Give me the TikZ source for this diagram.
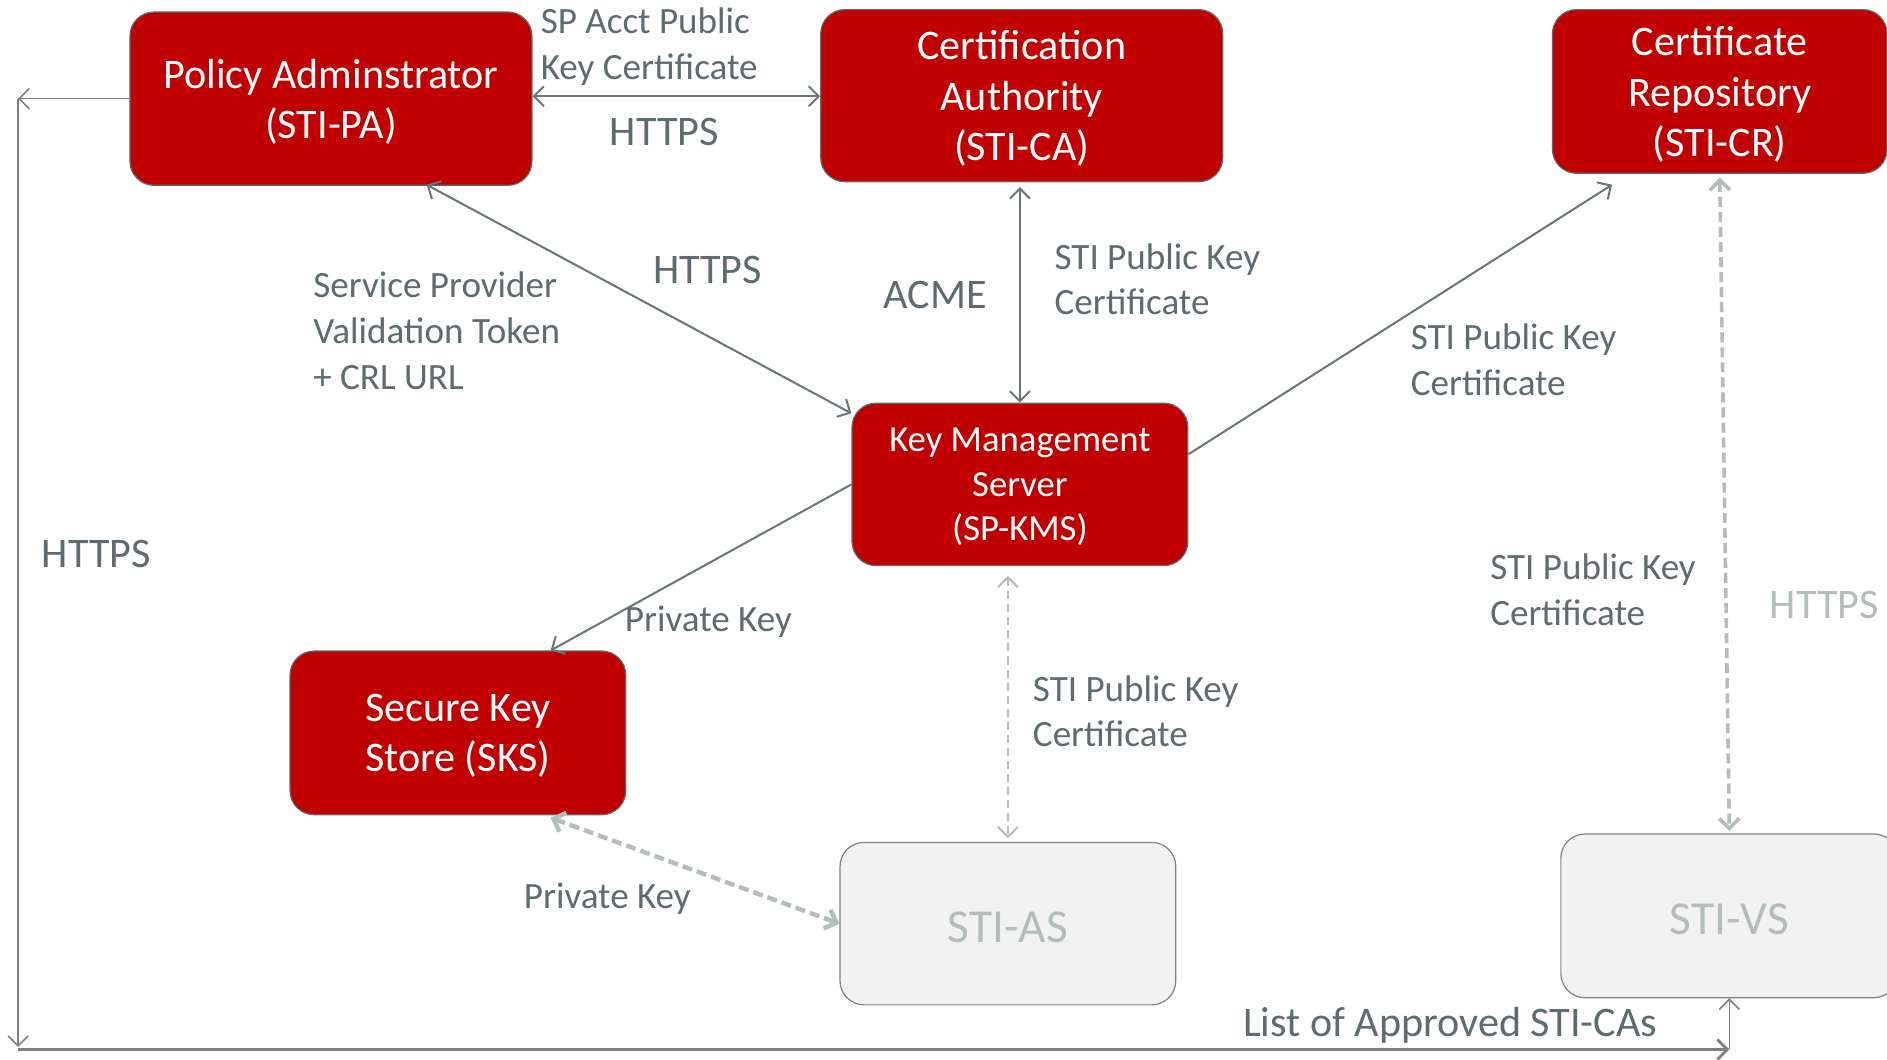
\documentclass[tikz,border=0pt]{standalone}
\usepackage{fontspec}
\setmainfont{Carlito}
\usetikzlibrary{arrows.meta,calc}
\definecolor{boxred}{HTML}{C00000}
\definecolor{boxedge}{HTML}{5E6A6C}
\definecolor{boxgrey}{HTML}{F2F2F2}
\definecolor{greyedge}{HTML}{7A8486}
\definecolor{labelgrey}{HTML}{5F6B6E}
\definecolor{linegrey}{HTML}{6A7678}
\definecolor{lightgrey}{HTML}{B4BCBC}
\definecolor{pathgrey}{HTML}{808080}
\begin{document}
\begin{tikzpicture}[x=0.6pt,y=-0.6pt,
  >={Straight Barb[length=5pt,width=10pt]},
  redbox/.style={draw=boxedge, line width=0.6pt, fill=boxred, rounded corners=12pt,
    text=white, align=center, inner sep=0pt, text depth=0pt,
    font=\fontsize{21}{25.2}\selectfont},
  greybox/.style={draw=greyedge, line width=0.6pt, fill=boxgrey, rounded corners=12pt,
    text=lightgrey, align=center, inner sep=0pt, text height=18.5pt, text depth=0pt,
    font=\fontsize{23.6}{28}\selectfont},
  lbl/.style={text=labelgrey, align=left, inner sep=0pt, anchor=west,
    font=\fontsize{18.5}{22.8}\selectfont},
  biglbl/.style={text=labelgrey, inner sep=0pt, font=\fontsize{21}{25}\selectfont},
  conn/.style={draw=linegrey, line width=1pt},
  frame/.style={draw=pathgrey, line width=0.8pt},
  softdash/.style={draw=lightgrey, line width=1pt, dash pattern=on 4pt off 2.5pt},
  heavydash/.style={draw=lightgrey, line width=1.8pt, dash pattern=on 5pt off 2.5pt}]

\fill[white] (0,0) rectangle (1568,880);
\useasboundingbox (0,0) rectangle (1568,880);

% entities
\node[redbox, minimum width=200.4pt, minimum height=86.4pt] (pa) at (275,82)
  {Policy Adminstrator\\(STI-PA)};
\node[redbox, minimum width=200.4pt, minimum height=85.8pt] (ca) at (849,79.5)
  {Certification\\Authority\\(STI-CA)};
\node[redbox, minimum width=166.8pt, minimum height=81.6pt] (cr) at (1429,76)
  {Certificate\\Repository\\(STI-CR)};
\node[redbox, minimum width=167.4pt, minimum height=81pt,
  font=\fontsize{18.3}{22.2}\selectfont] (kms) at (847.5,402.5)
  {Key Management\\Server\\(SP-KMS)};
\node[redbox, minimum width=167.4pt, minimum height=81.6pt] (sks) at (380.5,609)
  {Secure Key\\Store (SKS)};
\node[greybox, minimum width=167.4pt, minimum height=81pt] (as) at (837.5,767.5)
  {STI-AS};
\node[greybox, minimum width=168pt, minimum height=81.6pt] (vs) at (1437,761)
  {STI-VS};

% corner points of the distribution path around the left and bottom
\coordinate (c1) at (15,82);
\coordinate (c2) at (15,870);
\coordinate (c3) at (15,872);
\coordinate (c4) at (1437,872);

% solid connectors
\draw[conn, <->] (pa.east |- 0,80) -- (ca.west |- 0,80);
\draw[conn, <->] ($(pa.south west)+(247,-1)$) -- ($(kms.north west)+(0,9)$);
\draw[conn, <->] ($(kms.north |- ca.south)+(0,4)$) -- (kms.north);
\draw[conn, ->] ($(kms.north east)+(0,43)$) -- ($(cr.south west)+(50,9)$);
\draw[conn, ->] (kms.west) -- ($(sks.north west)+(217,0)$);

% policy administrator distribution path
\draw[frame, ->] (pa.west |- c1) -- (c1);
\draw[frame, ->] (c1) -- (c2);
\draw[frame, line width=1.4pt, ->] (c3) -- (c4);
\draw[frame, ->] (c4) -- (vs.south);

% dashed connectors
\draw[softdash, <->] ($(kms.south)+(-10,8)$) -- ($(as.north)+(0,-3)$);
\draw[heavydash, <->] ($(cr.south)+(0,3)$) -- ($(vs.north)+(0,-2)$);
\draw[heavydash, line width=2.2pt, <->] ($(sks.south west)+(217,2)$) -- (as.west);

% labels
\node[lbl] (l1) at (449,39) {SP Acct Public\\Key Certificate};
\node[biglbl] (l2) at (552,110) {HTTPS};
\node[biglbl] (l3) at (588,224) {HTTPS};
\node[lbl] (l4) at (260,275) {Service Provider\\Validation Token\\+ CRL URL};
\node[biglbl] (l5) at (777,245) {ACME};
\node[lbl] (l6) at (876,232) {STI Public Key\\Certificate};
\node[lbl] (l7) at (1172,299) {STI Public Key\\Certificate};
\node[biglbl] (l8) at (80,460) {HTTPS};
\node[lbl] (l9) at (519,517) {Private Key};
\node[lbl] (l10) at (858,591) {STI Public Key\\Certificate};
\node[lbl] (l11) at (1238,490) {STI Public Key\\Certificate};
\node[biglbl, text=lightgrey] (l12) at (1516,503) {HTTPS};
\node[lbl] (l13) at (435,747) {Private Key};
\node[biglbl] (l14) at (1205,852) {List of Approved STI-CAs};
\end{tikzpicture}
\end{document}
